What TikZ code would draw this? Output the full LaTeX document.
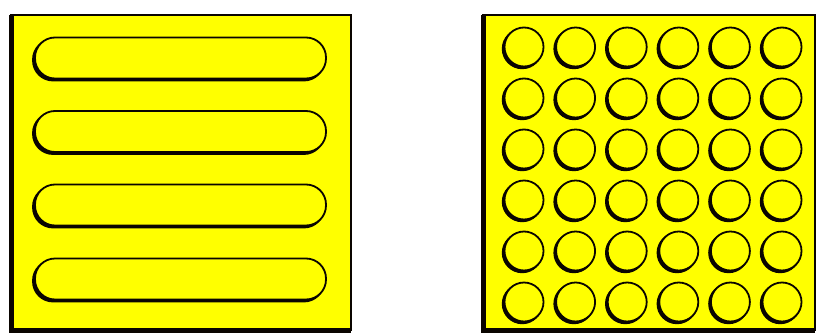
\documentclass[tikz,border=0pt]{standalone}
\usetikzlibrary{calc}
\definecolor{tile-yellow}{HTML}{FFFF00}
\definecolor{tile-ink}{HTML}{0A0500}
\begin{document}
\begin{tikzpicture}[x=1pt, y=-1pt]
  \tikzset{
    plate/.style={draw=tile-ink, fill=tile-yellow, line width=2.5pt},
    plateshade/.style={draw=tile-ink, line width=4.5pt},
    bump/.style={draw=tile-ink, fill=tile-yellow, line width=1.8pt},
    bumpshade/.style={draw=tile-ink, fill=tile-ink, line width=1.8pt}
  }
  \useasboundingbox (0,0) rectangle (816,332);

  % guiding tile with long bars
  \draw[plate] (11,15) rectangle (351,330);
  \draw[plateshade] (11.5,15) -- (11.5,330.5) -- (351,330.5);
  \foreach \yc in {58,131.5,205,279} {
    \draw[bumpshade, rounded corners=20pt, shift={(-2,2)}] (35,\yc-20.5) rectangle (326,\yc+20.5);
    \draw[bump, rounded corners=20pt] (35,\yc-20.5) rectangle (326,\yc+20.5);
  }

  % warning tile with round dots
  \draw[plate] (483,15) rectangle (815,330);
  \draw[plateshade] (483.5,15) -- (483.5,330.5) -- (815,330.5);
  \foreach \i in {0,...,5} {
    \foreach \j in {0,...,5} {
      \draw[bumpshade] (524+51.6*\i-1.8,47+51*\j+1.8) circle (19.5);
      \draw[bump] (524+51.6*\i,47+51*\j) circle (19.5);
    }
  }
\end{tikzpicture}
\end{document}
